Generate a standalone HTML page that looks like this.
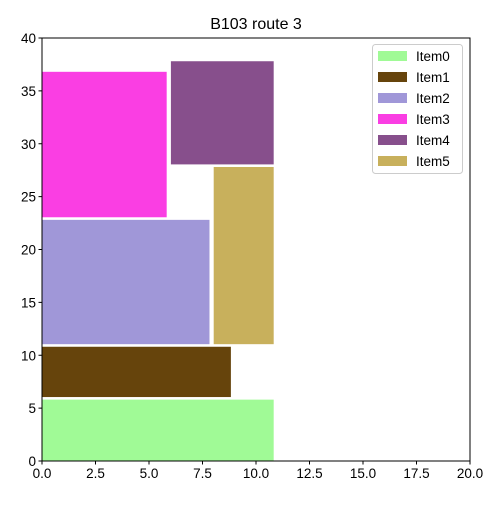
<!DOCTYPE html>
<html><head><meta charset="utf-8"><style>
body{margin:0;background:#fff;}
svg text{font-family:"Liberation Sans",sans-serif;fill:#000;}
</style></head><body>
<svg id="chart" width="500" height="500"></svg>
<script>
const itemNames=["Item0","Item1","Item2","Item3","Item4","Item5"];
const itemX=[0,0,0,0,6,8];
const itemY=[0,6,11,23,28,11];
const itemW=[10.85,8.85,7.85,5.85,4.85,2.85];
const itemH=[5.85,4.85,11.85,13.85,9.85,16.85];
const itemColors=["#a0fa96","#66440c","#a097d8","#fa3ee3","#874f8c","#c8b05c"];
const xTicks=[0,2.5,5,7.5,10,12.5,15,17.5,20];
const yTicks=[0,5,10,15,20,25,30,35,40];
const xTickLabels=["0.0","2.5","5.0","7.5","10.0","12.5","15.0","17.5","20.0"];
const yTickLabels=["0","5","10","15","20","25","30","35","40"];

const L=42,R=470,T=38,B=461;
const sx=v=>L+(v-0)/(20-0)*(R-L);
const sy=v=>B-(v-0)/(40-0)*(B-T);
const svg=document.getElementById('chart');
const NS="http://www.w3.org/2000/svg";
function mk(tag,attrs,parent){const e=document.createElementNS(NS,tag);for(const k in attrs)e.setAttribute(k,attrs[k]);(parent||svg).appendChild(e);return e;}

const title=mk('text',{x:256,y:29,'text-anchor':'middle','font-size':16});
title.textContent="B103 route 3";



for(let i=0;i<itemNames.length;i++){
  const r=mk('rect',{x:sx(itemX[i]),y:sy(itemY[i]+itemH[i]),width:sx(itemX[i]+itemW[i])-sx(itemX[i]),height:sy(itemY[i])-sy(itemY[i]+itemH[i]),fill:itemColors[i],stroke:'#fff','stroke-width':1});
  
  
}

const frame=mk('rect',{x:L,y:T,width:R-L,height:B-T,fill:'none',stroke:'#000','stroke-width':1});



xTicks.forEach((v,i)=>{
  mk('line',{x1:sx(v),x2:sx(v),y1:B,y2:B+3.5,stroke:'#000'});
  const t=mk('text',{x:sx(v),y:B+17,'text-anchor':'middle','font-size':13.5});
  t.textContent=xTickLabels[i];
  
  
});
yTicks.forEach((v,i)=>{
  mk('line',{x1:L-3.5,x2:L,y1:sy(v),y2:sy(v),stroke:'#000'});
  const t=mk('text',{x:L-6,y:sy(v)+5,'text-anchor':'end','font-size':13.5});
  t.textContent=yTickLabels[i];
  
  
});

const lg=mk('g',{});


mk('rect',{x:372.5,y:44.5,width:90,height:129,rx:3,fill:'#fff','fill-opacity':0.8,stroke:'#ccc'},lg);
itemNames.forEach((n,i)=>{
  const yy=56+i*21;
  const p=mk('rect',{x:378,y:yy-5,width:29,height:10,fill:itemColors[i]},lg);
  
  
  const t=mk('text',{x:416,y:yy+5,'font-size':13.5},lg);
  t.textContent=n;
  
  
});
</script>
</body></html>
